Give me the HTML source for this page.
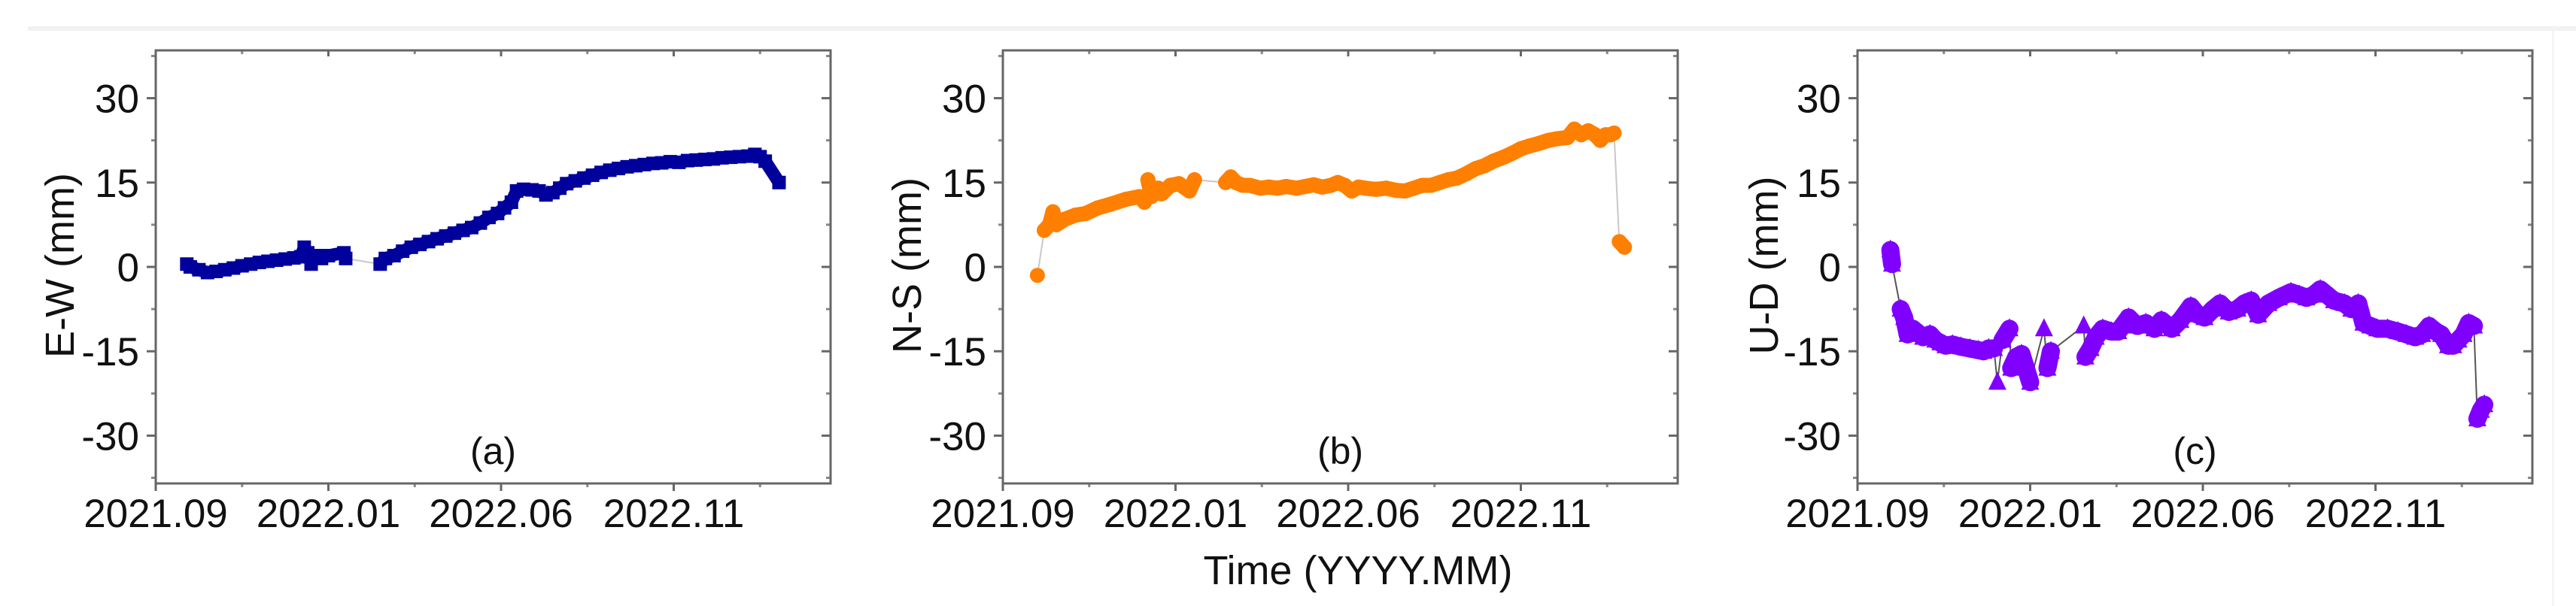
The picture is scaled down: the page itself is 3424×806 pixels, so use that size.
<!DOCTYPE html>
<html><head><meta charset="utf-8"><style>
html,body{margin:0;padding:0;background:#fff;}
svg{display:block;font-family:"Liberation Sans",Arial,sans-serif;}
</style></head><body>
<svg id="fig" width="3424" height="806" viewBox="0 0 3424 806" xmlns="http://www.w3.org/2000/svg">
<rect x="37" y="35" width="3387" height="6" fill="#f2f2f2"/>
<rect x="3392" y="41" width="3" height="765" fill="#f5f5f5"/>
</svg>
<script>
const xTickLabels = ["2021.09","2022.01","2022.06","2022.11"];
const yTicks = [-30,-15,0,15,30];
// x in major-tick units (0 = 2021.09, 1 = 2022.01, 2 = 2022.06, 3 = 2022.11)
const ewX = [0.18,0.20,0.25,0.30,0.35,0.40,0.45,0.50,0.55,0.60,0.65,0.70,0.75,0.80,0.84,0.86,0.88,0.90,0.93,0.96,1.00,1.09,1.10,1.30,1.33,1.38,1.43,1.48,1.53,1.58,1.63,1.68,1.73,1.78,1.83,1.88,1.93,1.98,2.02,2.06,2.09,2.13,2.18,2.22,2.26,2.30,2.34,2.38,2.43,2.48,2.53,2.58,2.63,2.68,2.73,2.78,2.83,2.88,2.93,2.98,3.03,3.08,3.13,3.18,3.23,3.28,3.33,3.38,3.43,3.47,3.50,3.53,3.61];
const ewY = [0.5,0,-0.5,-1,-0.8,-0.5,-0.2,0.2,0.5,0.8,1.0,1.2,1.4,1.6,1.8,3.5,2.5,0.5,2.0,1.5,2.0,2.5,1.5,0.5,1.5,2.0,2.8,3.5,4.0,4.5,5.0,5.5,6.0,6.5,7.0,7.8,8.8,9.5,10.5,11.5,13.5,13.8,13.7,13.5,12.8,13.2,14.0,14.8,15.3,15.8,16.3,16.8,17.2,17.5,17.8,18.0,18.2,18.4,18.5,18.7,18.6,18.9,19.0,19.1,19.2,19.4,19.5,19.6,19.7,20.0,19.6,18.8,15.0];
const nsX = [0.20,0.24,0.27,0.29,0.31,0.36,0.42,0.48,0.55,0.63,0.71,0.79,0.82,0.84,0.86,0.90,0.92,0.97,1.02,1.08,1.11,1.29,1.32,1.35,1.39,1.43,1.49,1.54,1.59,1.64,1.70,1.75,1.80,1.85,1.90,1.94,1.98,2.02,2.06,2.10,2.16,2.22,2.28,2.33,2.38,2.43,2.48,2.53,2.58,2.63,2.68,2.74,2.79,2.84,2.90,2.95,3.00,3.05,3.11,3.16,3.21,3.27,3.31,3.35,3.39,3.43,3.46,3.49,3.52,3.54,3.57,3.60];
const nsY = [-1.5,6.5,7.5,9.8,7.5,8.5,9.2,9.5,10.5,11.2,12.0,12.5,11.5,15.5,12.5,14.0,13.0,14.5,14.8,13.5,15.5,15.0,16.0,15.0,14.5,14.5,14.0,14.2,14.0,14.3,14.0,14.3,14.6,14.2,14.5,15.0,14.5,13.5,14.2,14.0,13.8,14.0,13.6,13.5,14.0,14.5,14.5,15.0,15.5,15.8,16.5,17.5,18.0,18.8,19.5,20.2,21.0,21.5,22.0,22.5,22.8,23.0,24.5,23.5,24.2,23.5,22.5,23.5,23.5,23.8,4.5,3.5];
const udX = [0.19,0.20,0.25,0.27,0.29,0.32,0.34,0.38,0.42,0.45,0.48,0.51,0.55,0.60,0.65,0.70,0.73,0.76,0.79,0.81,0.84,0.88,0.89,0.92,0.95,0.97,1.00,1.08,1.10,1.12,1.31,1.32,1.35,1.38,1.42,1.47,1.51,1.57,1.62,1.67,1.72,1.76,1.82,1.87,1.93,1.97,2.01,2.06,2.10,2.15,2.20,2.24,2.28,2.32,2.38,2.44,2.51,2.56,2.60,2.64,2.68,2.72,2.76,2.82,2.86,2.90,2.93,2.97,3.01,3.07,3.13,3.18,3.23,3.27,3.31,3.35,3.38,3.42,3.45,3.48,3.51,3.54,3.57,3.59,3.61,3.63];
const udY = [3,0.5,-7.5,-9,-12,-11,-11.5,-12.5,-12,-13,-13.5,-14,-13.8,-14.2,-14.5,-14.8,-15,-14.5,-14.5,-20.5,-13,-11,-18,-16,-15.5,-17.5,-20.5,-11,-18,-15,-10.5,-16,-14.5,-12.5,-11,-11.5,-11.5,-9,-10.5,-10,-11,-9.5,-11,-9.5,-7,-8.5,-9,-7.5,-6.5,-8,-7.5,-6.5,-6,-8.5,-6.5,-5.5,-4.5,-5,-5.5,-5,-4,-5,-6,-6.5,-7.5,-6.5,-10,-10.5,-11,-11,-11.5,-12,-12.5,-12,-10.5,-11.5,-12,-14,-14,-13,-12,-10,-10.5,-27,-25.5,-24.5];

const NS="http://www.w3.org/2000/svg";
const svg=document.getElementById('fig');
function mk(tag,attrs,parent){const e=document.createElementNS(NS,tag);for(const k in attrs)e.setAttribute(k,attrs[k]);(parent||svg).appendChild(e);return e;}

const panels=[
 {key:'ew',left:207,xs:ewX,ys:ewY,color:'#00009c',line:'#c8c8c8',band:17,ms:9,marker:'square',ytitle:'E-W (mm)',tx:79,label:'(a)'},
 {key:'ns',left:1333,xs:nsX,ys:nsY,color:'#ff7f00',line:'#c8c8c8',band:20,ms:10,marker:'circle',ytitle:'N-S (mm)',tx:1205,label:'(b)'},
 {key:'ud',left:2469,xs:udX,ys:udY,color:'#8000ff',line:'#555',band:24,ms:12,marker:'tri',ytitle:'U-D (mm)',tx:2344,label:'(c)'}
];
const TOP=67,BOT=643,W=897,UNIT=229.5,YMIN=-38.5,YMAX=38.5;

panels.forEach(p=>{
 const g=mk('g',{});
 
 
 const X=u=>p.left+u*UNIT;
 const Y=v=>BOT-(v-YMIN)/(YMAX-YMIN)*(BOT-TOP);
 const R=p.left+W;
 yTicks.forEach(t=>{
  const y=Y(t);
  const tl=mk('line',{x1:p.left-12,x2:p.left,y1:y,y2:y,stroke:'#666','stroke-width':3},g);
  
  
  mk('line',{x1:R-12,x2:R,y1:y,y2:y,stroke:'#666','stroke-width':3},g);
  const lab=mk('text',{x:p.left-22,y:y+19,'text-anchor':'end','font-size':53,fill:'#111'},g);
  lab.textContent=t;
  
  
 });
 for(let t=-37.5;t<=37.5;t+=15){const y=Y(t);
  mk('line',{x1:p.left-6,x2:p.left,y1:y,y2:y,stroke:'#888','stroke-width':3},g);
  mk('line',{x1:R-6,x2:R,y1:y,y2:y,stroke:'#888','stroke-width':3},g);}
 xTickLabels.forEach((s,i)=>{
  const x=X(i);
  mk('line',{x1:x,x2:x,y1:BOT,y2:BOT+10,stroke:'#666','stroke-width':3},g);
  mk('line',{x1:x,x2:x,y1:TOP,y2:TOP+8,stroke:'#666','stroke-width':3},g);
  const lab=mk('text',{x:x,y:701,'text-anchor':'middle','font-size':53,fill:'#111'},g);
  lab.textContent=s;
  
  
 });
 for(let u=0.5;u<3.9;u+=1){const x=X(u);
  mk('line',{x1:x,x2:x,y1:BOT,y2:BOT+5,stroke:'#888','stroke-width':3},g);
  mk('line',{x1:x,x2:x,y1:TOP,y2:TOP+5,stroke:'#888','stroke-width':3},g);}
 const frame=mk('rect',{x:p.left,y:TOP,width:W,height:BOT-TOP,fill:'none',stroke:'#666','stroke-width':3},g);
 
 
 const pts=p.xs.map((u,i)=>X(u)+','+Y(p.ys[i])).join(' ');
 const pl=mk('polyline',{points:pts,fill:'none',stroke:p.line,'stroke-width':2},g);
 
 
 for(let i=1;i<p.xs.length;i++){
  if(p.xs[i]-p.xs[i-1]<=0.1 && Math.abs(p.ys[i]-p.ys[i-1])<4){
   mk('line',{x1:X(p.xs[i-1]),y1:Y(p.ys[i-1]),x2:X(p.xs[i]),y2:Y(p.ys[i]),stroke:p.color,'stroke-width':p.band,'stroke-linecap':'round'},g);
  }
 }
 p.xs.forEach((u,i)=>{
  const cx=X(u),cy=Y(p.ys[i]),s=p.ms;let m;
  if(p.marker==='square')m=mk('rect',{x:cx-s,y:cy-s,width:2*s,height:2*s,fill:p.color},g);
  else if(p.marker==='circle')m=mk('circle',{cx:cx,cy:cy,r:s,fill:p.color},g);
  else m=mk('polygon',{points:`${cx},${cy-s-2} ${cx-s},${cy+s-2} ${cx+s},${cy+s-2}`,fill:p.color},g);
  
  
 });
 const yt=mk('text',{x:p.tx,y:353,'text-anchor':'middle','font-size':54,fill:'#111',transform:`rotate(-90 ${p.tx} 353)`,dy:19},g);
 yt.textContent=p.ytitle;
 
 
 const pl2=mk('text',{x:p.left+W*0.5,y:617,'text-anchor':'middle','font-size':50,fill:'#111'},g);
 pl2.textContent=p.label;
 
 
});
const xt=mk('text',{x:1805,y:777,'text-anchor':'middle','font-size':54,fill:'#111'});
xt.textContent='Time (YYYY.MM)';


</script>
</body></html>
